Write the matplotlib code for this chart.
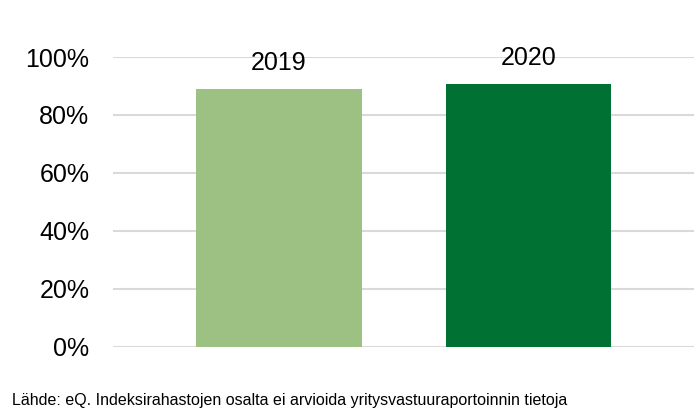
import matplotlib
matplotlib.use("Agg")
import matplotlib.pyplot as plt
from matplotlib.ticker import FuncFormatter

plt.rcParams['font.family'] = ['Liberation Sans', 'DejaVu Sans']

categories = ["2019", "2020"]
values = [0.89, 0.908]
colors = ["#9DC183", "#007033"]
yticks = [0, 0.2, 0.4, 0.6, 0.8, 1.0]
source = "Lähde: eQ. Indeksirahastojen osalta ei arvioida yritysvastuuraportoinnin tietoja"

fig = plt.figure(figsize=(7, 4.09), dpi=100)
ax = fig.add_axes([0.1614, 0.1523, 0.83, 0.7083])

x = list(range(len(categories)))
bars = ax.bar(x, values, width=0.665, color=colors, zorder=3)

for xi, v, lab in zip(x, values, categories):
    ax.annotate(lab, (xi, v), xytext=(0, 18.5), textcoords="offset points",
                ha="center", va="center", fontsize=18, color="#000000",
                annotation_clip=False)

ax.set_xlim(-0.665, 1.663)
ax.set_ylim(0, 1.0)
ax.set_yticks(yticks)
ax.yaxis.set_major_formatter(FuncFormatter(lambda v, p: f"{round(v*100)}%"))
ax.tick_params(axis="y", length=0, pad=17, labelsize=18, labelcolor="#000000")
ax.set_xticks([])
ax.grid(axis="y", color="#D9D9D9", linewidth=1.5, zorder=0)
ax.set_axisbelow(True)
for s in ax.spines.values():
    s.set_visible(False)

fig.text(12/700, 1/409, source, ha="left", va="bottom", fontsize=11.5, color="#000000")

fig.savefig("out.png", dpi=100)
